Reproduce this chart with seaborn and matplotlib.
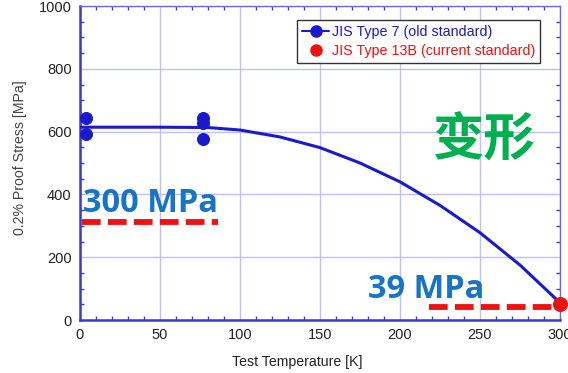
import matplotlib
matplotlib.use("Agg")
import matplotlib.pyplot as plt
import seaborn as sns
import pandas as pd
from matplotlib.lines import Line2D

# Data
curve_T = [0, 50, 80, 100, 125, 150, 175, 200, 225, 250, 275, 300]
curve_S = [614, 614, 613, 605, 583, 549, 500, 440, 365, 278, 175, 55]
old_T = [4, 4, 77, 77, 77]
old_S = [642, 592, 642, 628, 576]
new_T = [300]
new_S = [50]
ref_300_T = [1, 86]
ref_300_S = [312, 312]
ref_39_T = [218, 300]
ref_39_S = [41, 41]

x_ticks = [0, 50, 100, 150, 200, 250, 300]
y_ticks = [0, 200, 400, 600, 800, 1000]

sns.set_theme(style="white")
plt.rcParams['font.family'] = ['Liberation Sans', 'DejaVu Sans']

fig = plt.figure(figsize=(5.68, 3.73), dpi=100)
ax = fig.add_axes([80/568, 1 - 320/373, 480/568, 314/373])

blue = '#1a1acc'
red = '#ee1111'

curve_df = pd.DataFrame({"T": curve_T, "S": curve_S})
sns.lineplot(data=curve_df, x="T", y="S", ax=ax, color=blue, lw=2.2, zorder=3)
old_df = pd.DataFrame({"T": old_T, "S": old_S})
sns.scatterplot(data=old_df, x="T", y="S", ax=ax, color=blue, s=75, edgecolor=blue,
                zorder=4, clip_on=False)
new_df = pd.DataFrame({"T": new_T, "S": new_S})
sns.scatterplot(data=new_df, x="T", y="S", ax=ax, color=red, s=100, edgecolor=red,
                zorder=5, clip_on=False)

dash = (0, (3.2, 1.25))
ax.plot(ref_300_T, ref_300_S, color=red, lw=4.2, ls=dash, clip_on=False, zorder=6)
ax.plot(ref_39_T, ref_39_S, color=red, lw=4.2, ls=dash, clip_on=False, zorder=6)

ax.set_xlim(0, 300)
ax.set_ylim(0, 1000)
ax.set_xticks(x_ticks)
ax.set_yticks(y_ticks)
ax.set_xticks(range(0, 301, 10), minor=True)
ax.set_yticks(range(0, 1001, 50), minor=True)
ax.grid(True, which='major', color='#c0c0f2', lw=1.0)
ax.tick_params(axis='both', which='both', direction='in', colors='#3a3acc',
               labelcolor='#222222', labelsize=10.5, length=3)
ax.tick_params(axis='both', which='major', length=0, pad=6)
ax.tick_params(axis='both', which='minor', top=True, right=True, bottom=True, left=True)
for side in ['left', 'bottom']:
    ax.spines[side].set_color('#3a3acc')
    ax.spines[side].set_linewidth(1.8)
for side in ['top', 'right']:
    ax.spines[side].set_color('#6a6ae0')
    ax.spines[side].set_linewidth(1.0)

ax.set_xlabel('Test Temperature [K]', fontsize=10.2, color='#222222')
ax.xaxis.set_label_coords((297 - 80) / 480, -(355 - 320) / 314)
ax.set_ylabel('0.2% Proof Stress [MPa]', fontsize=10.2, color='#444444')
ax.yaxis.set_label_coords(-(80 - 27) / 480, (320 - 158) / 314)

handles = [Line2D([], [], color=blue, marker='o', ms=8, lw=1.5),
           Line2D([], [], color=red, marker='o', ms=8, lw=0)]
leg = ax.legend(handles, ['JIS Type 7 (old standard)', 'JIS Type 13B (current standard)'],
                loc='upper right', bbox_to_anchor=(460/480, 1 - 14/314), fontsize=10.3,
                frameon=True, fancybox=False, edgecolor='#333333', framealpha=1,
                handlelength=1.9, handletextpad=0.15, borderpad=0.35, labelspacing=0.35,
                borderaxespad=0)
leg.get_frame().set_linewidth(1.0)
for t, c in zip(leg.get_texts(), [blue, red]):
    t.set_color(c)

ax.text(2, 372, '300 MPa', fontsize=23.5, fontweight='bold', color='#1874c4',
        family=['Open Sans', 'DejaVu Sans'], va='center', ha='left', zorder=7)
ax.text(180, 96, '39 MPa', fontsize=23.5, fontweight='bold', color='#1874c4',
        family=['Open Sans', 'DejaVu Sans'], va='center', ha='left', zorder=7)
ax.text(252, 573, '变形', fontsize=37, fontweight='bold', color='#00b050',
        family=['Noto Sans CJK SC', 'DejaVu Sans'], va='center', ha='center', zorder=7)

fig.savefig('out.png', dpi=100)
